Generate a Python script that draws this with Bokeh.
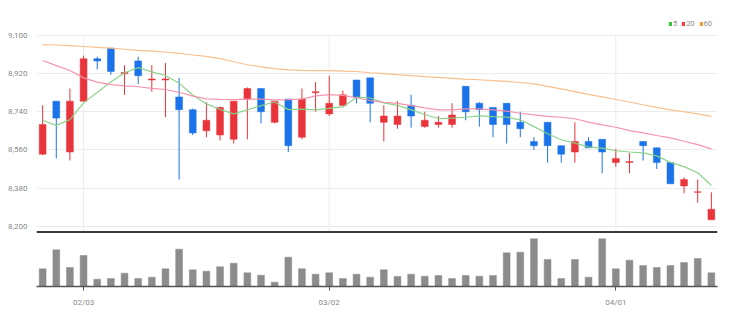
from bokeh.plotting import figure
from bokeh.layouts import column
from bokeh.models import (Range1d, FixedTicker, NumeralTickFormatter, Span, ColumnDataSource,
                          Legend, LegendItem)
from bokeh.embed import file_html
from bokeh.resources import INLINE

# ---- data ----
dates = ["01/26", "01/27", "01/28", "02/03", "02/04", "02/07", "02/08", "02/09", "02/10", "02/11",
         "02/14", "02/15", "02/16", "02/17", "02/18", "02/21", "02/22", "02/23", "02/24", "02/25",
         "02/28", "03/02", "03/03", "03/04", "03/07", "03/08", "03/10", "03/11", "03/14", "03/15",
         "03/16", "03/17", "03/18", "03/21", "03/22", "03/23", "03/24", "03/25", "03/28", "03/29",
         "03/30", "03/31", "04/01", "04/04", "04/05", "04/06", "04/07", "04/08", "04/11", "04/12"]
opens = [8540, 8790, 8550, 8790, 8990, 9040, 8920, 8980, 8890, 8890,
         8810, 8750, 8650, 8630, 8610, 8800, 8850, 8690, 8800, 8620,
         8830, 8730, 8770, 8890, 8900, 8690, 8680, 8770, 8670, 8680,
         8680, 8860, 8780, 8760, 8780, 8690, 8600, 8690, 8580, 8550,
         8600, 8610, 8500, 8500, 8600, 8570, 8500, 8390, 8360, 8230]
closes = [8680, 8710, 8790, 8990, 8980, 8930, 8925, 8910, 8895, 8895,
          8750, 8640, 8700, 8760, 8790, 8850, 8740, 8790, 8580, 8800,
          8835, 8780, 8820, 8810, 8780, 8720, 8720, 8720, 8700, 8690,
          8725, 8740, 8750, 8680, 8680, 8660, 8580, 8580, 8540, 8600,
          8570, 8550, 8520, 8505, 8580, 8500, 8400, 8420, 8362, 8280]
highs = [8770, 8790, 8850, 9005, 9000, 9040, 8960, 9000, 8960, 8970,
         8900, 8755, 8785, 8765, 8790, 8855, 8850, 8790, 8800, 8850,
         8880, 8910, 8840, 8890, 8900, 8770, 8790, 8820, 8740, 8720,
         8780, 8860, 8785, 8760, 8780, 8740, 8620, 8690, 8580, 8690,
         8620, 8610, 8565, 8545, 8600, 8570, 8500, 8430, 8420, 8360]
lows = [8535, 8520, 8510, 8790, 8940, 8915, 8820, 8870, 8835, 8715,
        8420, 8630, 8620, 8605, 8590, 8610, 8685, 8685, 8550, 8610,
        8740, 8720, 8770, 8780, 8690, 8600, 8660, 8665, 8665, 8665,
        8665, 8700, 8670, 8620, 8590, 8620, 8560, 8500, 8500, 8500,
        8570, 8450, 8480, 8450, 8510, 8470, 8400, 8355, 8310, 8230]
volumes = [177, 367, 190, 310, 73, 80, 133, 80, 93, 177,
           373, 167, 153, 197, 233, 137, 113, 43, 293, 177,
           123, 137, 80, 123, 93, 167, 100, 123, 103, 110,
           80, 110, 103, 110, 337, 343, 477, 270, 80, 270,
           93, 477, 177, 263, 210, 190, 210, 240, 280, 137]
ma5 = [8700, 8676, 8703, 8782, 8831, 8881, 8924, 8948, 8928, 8911,
       8875, 8819, 8777, 8751, 8730, 8749, 8769, 8786, 8750, 8752,
       8749, 8756, 8763, 8809, 8805, 8782, 8770, 8749, 8727, 8708,
       8710, 8714, 8721, 8717, 8715, 8702, 8670, 8636, 8608, 8592,
       8574, 8568, 8556, 8550, 8546, 8532, 8501, 8481, 8452, 8392]
ma20 = [8982, 8958, 8935, 8900, 8880, 8868, 8862, 8858, 8850, 8845,
        8832, 8814, 8801, 8798, 8797, 8800, 8800, 8796, 8797, 8800,
        8815, 8821, 8817, 8806, 8793, 8785, 8780, 8769, 8758, 8749,
        8749, 8754, 8754, 8749, 8743, 8733, 8725, 8718, 8714, 8707,
        8691, 8678, 8667, 8651, 8640, 8628, 8617, 8601, 8585, 8565]
ma60 = [9057, 9055, 9052, 9048, 9044, 9040, 9035, 9030, 9026, 9022,
        9016, 9008, 9001, 8991, 8976, 8962, 8952, 8944, 8938, 8935,
        8934, 8934, 8932, 8930, 8924, 8920, 8915, 8911, 8906, 8902,
        8898, 8894, 8891, 8887, 8883, 8878, 8872, 8860, 8848, 8835,
        8822, 8810, 8798, 8786, 8773, 8761, 8749, 8740, 8730, 8718]
price_ticks = [8200, 8380, 8560, 8740, 8920, 9100]
tick_labels = ["02/03", "03/02", "04/01"]
ma_names = ["5", "20", "60"]

UP = "#e8343a"
DOWN = "#1a73e8"
MA_COLORS = ["#86d286", "#f48fa8", "#f7bd86"]
LEG_COLORS = ["#3cc83c", "#f03c46", "#f5a03c"]
FONT = "Roboto"
LABEL_COLOR = "#8a8a8a"
GRID = "#ececec"
NAN = float("nan")

n = len(dates)
idx = list(range(n))
tick_idx = [dates.index(t) for t in tick_labels]

src = ColumnDataSource(dict(
    x=idx, o=opens, c=closes, h=highs, l=lows,
    top=[max(a, b) for a, b in zip(opens, closes)],
    bot=[min(a, b) for a, b in zip(opens, closes)],
    color=[UP if c >= o else DOWN for o, c in zip(opens, closes)],
    vol=volumes,
))

xr = Range1d(-0.45, 49.45)
yr = Range1d(8165.5, 9199)

# ---- price panel ----
p = figure(width=734, height=233, x_range=xr, y_range=yr,
           output_backend="svg", toolbar_location=None, title=None,
           min_border_left=36, min_border_right=17, min_border_top=14, min_border_bottom=0)
p.outline_line_color = None
p.xaxis.visible = False
p.xgrid.visible = False
p.yaxis.ticker = FixedTicker(ticks=price_ticks)
p.yaxis.formatter = NumeralTickFormatter(format="0,0")
p.yaxis.axis_line_color = None
p.yaxis.major_tick_line_color = None
p.yaxis.minor_tick_line_color = None
p.yaxis.major_label_standoff = 3
p.yaxis.major_label_text_font = FONT
p.yaxis.major_label_text_font_size = "8px"
p.yaxis.major_label_text_color = LABEL_COLOR
p.ygrid.grid_line_color = GRID

# vertical grid lines at the month ticks, limited to the price scale
p.segment(x0=tick_idx, y0=[yr.start] * len(tick_idx), x1=tick_idx,
          y1=[price_ticks[-1]] * len(tick_idx), line_color=GRID, line_width=1)

p.segment(x0="x", y0="h", x1="x", y1="l", color="color", line_width=1, source=src)
p.vbar(x="x", top="top", bottom="bot", width=0.5, fill_color="color", line_color="color",
       line_width=0.5, source=src)

for vals, col in zip([ma5, ma20, ma60], MA_COLORS):
    p.line(idx, vals, line_color=col, line_width=1.2, line_alpha=0.95)

p.add_layout(Span(location=8172, dimension="width", line_color="#3a3a3a", line_width=2))

# legend swatches: renderers with no drawable point, used only for their legend glyph
items = []
for name, col in zip(ma_names, LEG_COLORS):
    r = p.quad(left=[NAN], right=[NAN], top=[NAN], bottom=[NAN],
               fill_color=col, line_color=None)
    items.append(LegendItem(label=name, renderers=[r]))
leg = Legend(items=items, orientation="horizontal", location="top_right",
             glyph_width=4, glyph_height=5, label_standoff=1, spacing=4, padding=0,
             margin=5, border_line_color=None, background_fill_alpha=0,
             label_text_font=FONT, label_text_font_size="7.5px", label_text_color=LABEL_COLOR,
             label_height=5, label_width=1)
p.add_layout(leg, "center")

# ---- volume panel ----
v = figure(width=734, height=89, x_range=xr, y_range=Range1d(0, 530),
           output_backend="svg", toolbar_location=None, title=None,
           min_border_left=36, min_border_right=17, min_border_top=0, min_border_bottom=36)
v.outline_line_color = None
v.grid.visible = False
v.yaxis.visible = False
v.vbar(x="x", top="vol", bottom=0, width=0.5, fill_color="#8c8c8c", line_color="#8c8c8c",
       line_width=0.5, source=src)
v.xaxis.ticker = FixedTicker(ticks=tick_idx)
v.xaxis.major_label_overrides = {i: t for i, t in zip(tick_idx, tick_labels)}
v.xaxis.axis_line_color = "#555555"
v.xaxis.axis_line_width = 1.5
v.xaxis.major_tick_line_color = "#555555"
v.xaxis.major_tick_in = 0
v.xaxis.major_tick_out = 4
v.xaxis.minor_tick_line_color = None
v.xaxis.major_label_standoff = 7
v.xaxis.major_label_text_font = FONT
v.xaxis.major_label_text_font_size = "8px"
v.xaxis.major_label_text_color = LABEL_COLOR

layout = column(p, v, spacing=0)
open("out.html", "w").write(file_html(layout, INLINE))
